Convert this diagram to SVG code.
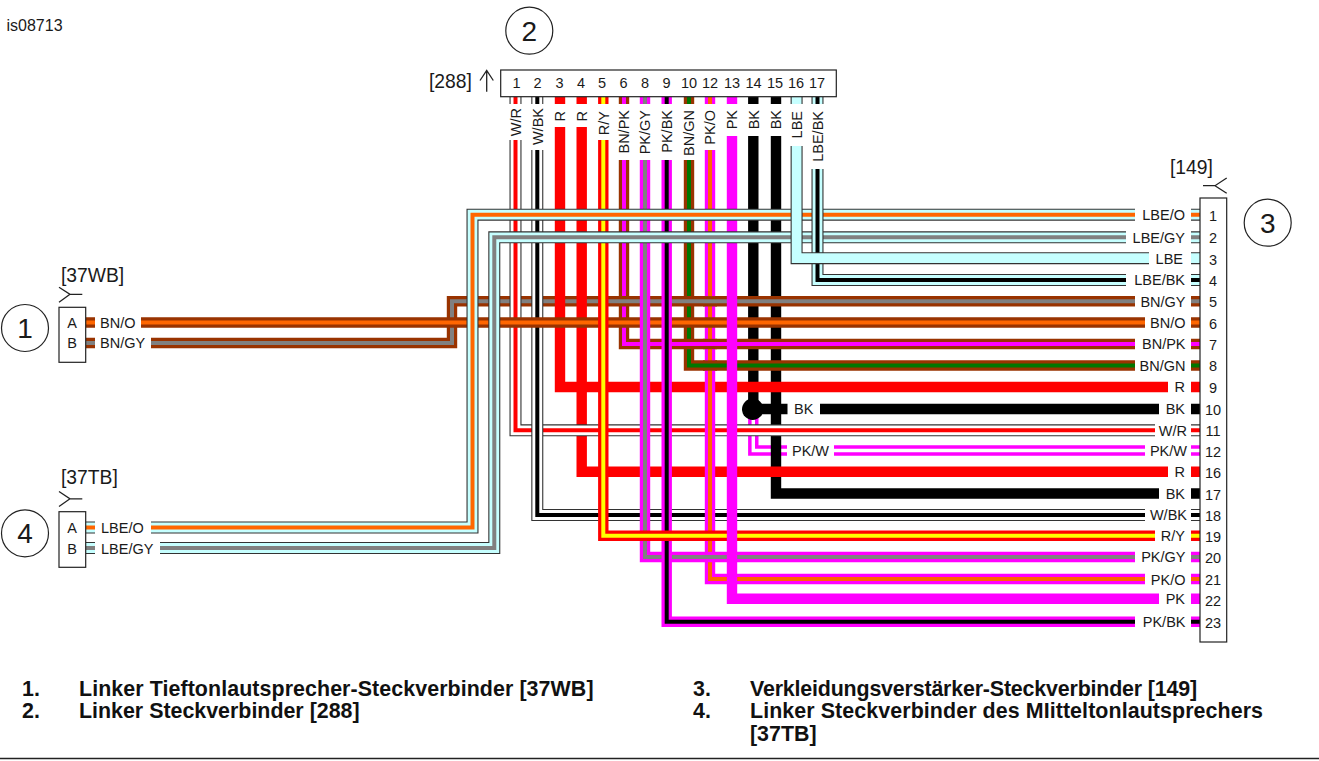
<svg xmlns="http://www.w3.org/2000/svg" width="1319" height="761" viewBox="0 0 1319 761">
<style>
text{font-family:"Liberation Sans",Arial,sans-serif;fill:#1a1a1a}
.t{font-size:14.5px}
.e{text-anchor:end}
.m{text-anchor:middle}
.lb{font-size:19.3px}
.ci{font-size:28px;text-anchor:middle}
.b{font-size:21.4px;font-weight:bold;fill:#111}
.s{fill:#fff;stroke:#222;stroke-width:1.2}
.l{fill:none;stroke:#222;stroke-width:1.3}
use{fill:none;stroke-linejoin:miter}
.red{stroke:#f00;stroke-width:10.4}
.mag{stroke:#f0f;stroke-width:10.4}
.blk{stroke:#000;stroke-width:10.4}
.brn{stroke:#930;stroke-width:10.4}
.edge{stroke:#333;stroke-width:12}
.cyan{stroke:#c6ffff;stroke-width:9.8}
.wht{stroke:#fff;stroke-width:9.8}
.wh2{stroke:#fff;stroke-width:3.4}
.sr{stroke:#f00;stroke-width:4}
.so{stroke:#f60;stroke-width:4}
.sg{stroke:#808080;stroke-width:4}
.sk{stroke:#000;stroke-width:4}
.sy{stroke:#ff0;stroke-width:4}
.sm{stroke:#f0f;stroke-width:4}
.sn{stroke:#070;stroke-width:4}
</style>
<defs>
<path id="pkw" d="M753.3 414V450.5H787M834 450.5H1145M1191 450.5H1200"/>
<path id="bk14" d="M753.3 97V104M753.3 136V409"/>
<path id="bk15" d="M776 97V104M776 136V493.5H1159M1191 493.5H1200"/>
<path id="bk10" d="M753 409H787.5M820 409H1159M1191 409H1200"/>
<path id="bngn" d="M689 97V104M689 160V365.5H1135M1191 365.5H1200"/>
<path id="bnpk" d="M624 97V104M624 160V344H1135M1191 344H1200"/>
<path id="bngy" d="M85.7 343H95M151 343H452V301.3H1135M1191 301.3H1200"/>
<path id="r3" d="M560 97V104M560 127V387H1168M1191 387H1200"/>
<path id="r4" d="M581.7 97V104M581.7 127V471.7H1168M1191 471.7H1200"/>
<path id="wr" d="M515.5 97V104M515.5 140V430.3H1155M1191 430.3H1200"/>
<path id="wbk" d="M537.3 97V104M537.3 150V515H1145M1191 515H1200"/>
<path id="pko" d="M710 97V104M710 150V579H1145M1191 579H1200"/>
<path id="xgy" d="M703 301.3H717"/>
<path id="xpk" d="M703 344H717"/>
<path id="xgn" d="M703 365.5H717"/>
<path id="bno" d="M85.7 322.5H95M141 322.5H1145M1191 322.5H1200"/>
<path id="pkgy" d="M645 97V104M645 160V557H1135M1191 557H1200"/>
<path id="pkbk" d="M666.7 97V104M666.7 160V621.7H1135M1191 621.7H1200"/>
<path id="ry" d="M603.3 97V104M603.3 140V535.7H1155M1191 535.7H1200"/>
<path id="pk" d="M732 97V104M732 136V598.7H1159M1191 598.7H1200"/>
<path id="lbeo" d="M85.7 527.5H95M151 527.5H472.5V214.7H1135M1191 214.7H1200"/>
<path id="lbegy" d="M85.7 548H95M160 548H494.3V237.3H1126M1191 237.3H1200"/>
<path id="lbebk" d="M817.5 97V104M817.5 169V280H1126M1191 280H1200"/>
<path id="lbe" d="M796.6 97V104M796.6 146V258.2H1149M1191 258.2H1200"/>
</defs>
<text x="6.5" y="31" style="font-size:16px">is08713</text>
<g id="connectors">
<use href="#pkw" class="mag"/><use href="#pkw" class="wh2"/>
<use href="#bk14" class="blk"/>
<use href="#bk15" class="blk"/>
<use href="#bk10" class="blk"/>
<circle cx="752.7" cy="409.3" r="10.7" fill="#000"/>
<use href="#bngn" class="brn"/><use href="#bngn" class="sn"/>
<use href="#bnpk" class="brn"/><use href="#bnpk" class="sm"/>
<use href="#bngy" class="brn"/><use href="#bngy" class="sg"/>
<use href="#r3" class="red"/>
<use href="#r4" class="red"/>
<use href="#wr" class="edge"/><use href="#wr" class="wht"/><use href="#wr" class="sr"/>
<use href="#wbk" class="edge"/><use href="#wbk" class="wht"/><use href="#wbk" class="sk"/>
<use href="#pko" class="mag"/><use href="#pko" class="so"/>
<use href="#xgn" class="brn"/><use href="#xgn" class="sn"/>
<use href="#xpk" class="brn"/><use href="#xpk" class="sm"/>
<use href="#xgy" class="brn"/><use href="#xgy" class="sg"/>
<use href="#bno" class="brn"/><use href="#bno" class="so"/>
<use href="#pkgy" class="mag"/><use href="#pkgy" class="sg"/>
<use href="#pkbk" class="mag"/><use href="#pkbk" class="sk"/>
<use href="#ry" class="red"/><use href="#ry" class="sy"/>
<use href="#pk" class="mag"/>
<use href="#lbeo" class="edge"/><use href="#lbeo" class="cyan"/><use href="#lbeo" class="so"/>
<use href="#lbegy" class="edge"/><use href="#lbegy" class="cyan"/><use href="#lbegy" class="sg"/>
<use href="#lbebk" class="edge"/><use href="#lbebk" class="cyan"/><use href="#lbebk" class="sk"/>
<use href="#lbe" class="edge"/><use href="#lbe" class="cyan"/>
<g>
<text class="t" x="100" y="327.7">BN/O</text>
<text class="t" x="100" y="348.3">BN/GY</text>
<text class="t" x="101" y="533">LBE/O</text>
<text class="t" x="101" y="553.5">LBE/GY</text>
<text class="t" x="794" y="414.3">BK</text>
<text class="t" x="792" y="455.5">PK/W</text>
</g>
<g>
<text class="t e" transform="rotate(-90 520.7 108)" x="520.7" y="108">W/R</text>
<text class="t e" transform="rotate(-90 542.5 108)" x="542.5" y="108">W/BK</text>
<text class="t e" transform="rotate(-90 565.2 111)" x="565.2" y="111">R</text>
<text class="t e" transform="rotate(-90 586.9 111)" x="586.9" y="111">R</text>
<text class="t e" transform="rotate(-90 608.5 111)" x="608.5" y="111">R/Y</text>
<text class="t e" transform="rotate(-90 629.2 110)" x="629.2" y="110">BN/PK</text>
<text class="t e" transform="rotate(-90 650.2 110)" x="650.2" y="110">PK/GY</text>
<text class="t e" transform="rotate(-90 671.9 110)" x="671.9" y="110">PK/BK</text>
<text class="t e" transform="rotate(-90 694.2 110)" x="694.2" y="110">BN/GN</text>
<text class="t e" transform="rotate(-90 715.2 110)" x="715.2" y="110">PK/O</text>
<text class="t e" transform="rotate(-90 737.2 110)" x="737.2" y="110">PK</text>
<text class="t e" transform="rotate(-90 758.5 110)" x="758.5" y="110">BK</text>
<text class="t e" transform="rotate(-90 781.2 110)" x="781.2" y="110">BK</text>
<text class="t e" transform="rotate(-90 801.8 111)" x="801.8" y="111">LBE</text>
<text class="t e" transform="rotate(-90 822.7 111)" x="822.7" y="111">LBE/BK</text>
</g>
<g>
<text class="t e" x="1185" y="220">LBE/O</text>
<text class="t e" x="1185" y="242.5">LBE/GY</text>
<text class="t e" x="1183" y="263.5">LBE</text>
<text class="t e" x="1185" y="285.3">LBE/BK</text>
<text class="t e" x="1185.5" y="306.5">BN/GY</text>
<text class="t e" x="1185.5" y="328">BN/O</text>
<text class="t e" x="1185.5" y="349.3">BN/PK</text>
<text class="t e" x="1185.5" y="370.8">BN/GN</text>
<text class="t e" x="1185" y="392">R</text>
<text class="t e" x="1185" y="414.3">BK</text>
<text class="t e" x="1187" y="435.5">W/R</text>
<text class="t e" x="1187" y="456">PK/W</text>
<text class="t e" x="1185" y="477">R</text>
<text class="t e" x="1185" y="499">BK</text>
<text class="t e" x="1187" y="520">W/BK</text>
<text class="t e" x="1185" y="541">R/Y</text>
<text class="t e" x="1185.5" y="562.3">PK/GY</text>
<text class="t e" x="1185.5" y="585">PK/O</text>
<text class="t e" x="1185" y="604">PK</text>
<text class="t e" x="1185.5" y="627">PK/BK</text>
</g>
</g>
<g id="node-1">
<circle class="s" cx="25" cy="328" r="23.5"/>
<text class="ci" x="25" y="338">1</text>
<rect class="s" x="59" y="307.3" width="26.7" height="55"/>
<text class="t m" x="72" y="327.5">A</text>
<text class="t m" x="72" y="348">B</text>
<path class="l" d="M59 287.3L70 294.3H82.3M70 294.3L59 302.3"/>
<text class="lb" x="61" y="281.7">[37WB]</text>
</g>
<g id="node-2">
<circle class="s" cx="529.3" cy="30.7" r="23.5"/>
<text class="ci" x="529.3" y="40.7">2</text>
<rect class="s" x="500.7" y="70" width="335.6" height="26.7"/>
<g>
<text class="t m" x="516.5" y="88">1</text>
<text class="t m" x="537.5" y="88">2</text>
<text class="t m" x="559.5" y="88">3</text>
<text class="t m" x="581" y="88">4</text>
<text class="t m" x="602" y="88">5</text>
<text class="t m" x="623.5" y="88">6</text>
<text class="t m" x="645" y="88">8</text>
<text class="t m" x="666.5" y="88">9</text>
<text class="t m" x="689" y="88">10</text>
<text class="t m" x="710" y="88">12</text>
<text class="t m" x="732" y="88">13</text>
<text class="t m" x="753.5" y="88">14</text>
<text class="t m" x="775" y="88">15</text>
<text class="t m" x="796" y="88">16</text>
<text class="t m" x="817" y="88">17</text>
</g>
<path class="l" d="M486.7 91.7V70.5M480 80.5L486.7 70.5L493.3 80.5"/>
<text class="lb" x="429" y="88">[288]</text>
</g>
<g id="node-3">
<circle class="s" cx="1267.7" cy="222.7" r="23.5"/>
<text class="ci" x="1267.7" y="232.7">3</text>
<rect class="s" x="1200" y="198" width="26.7" height="444"/>
<text class="t m" x="1213" y="221">1</text>
<text class="t m" x="1213" y="243">2</text>
<text class="t m" x="1213" y="264.5">3</text>
<text class="t m" x="1213" y="285.5">4</text>
<text class="t m" x="1213" y="307">5</text>
<text class="t m" x="1213" y="328.5">6</text>
<text class="t m" x="1213" y="349.5">7</text>
<text class="t m" x="1213" y="371">8</text>
<text class="t m" x="1213" y="392.5">9</text>
<text class="t m" x="1213" y="415">10</text>
<text class="t m" x="1213" y="435.5">11</text>
<text class="t m" x="1213" y="456.5">12</text>
<text class="t m" x="1213" y="478">16</text>
<text class="t m" x="1213" y="499.5">17</text>
<text class="t m" x="1213" y="520.5">18</text>
<text class="t m" x="1213" y="541.5">19</text>
<text class="t m" x="1213" y="563">20</text>
<text class="t m" x="1213" y="584.5">21</text>
<text class="t m" x="1213" y="605.5">22</text>
<text class="t m" x="1213" y="627.5">23</text>
<path class="l" d="M1203 185.7H1215L1226.7 178M1215 185.7L1226.7 193.3"/>
<text class="lb" x="1170" y="173.5">[149]</text>
</g>
<g id="node-4">
<circle class="s" cx="25" cy="533.3" r="23.5"/>
<text class="ci" x="25" y="543.3">4</text>
<rect class="s" x="59" y="511.7" width="26.7" height="55.6"/>
<text class="t m" x="72" y="533">A</text>
<text class="t m" x="72" y="553.5">B</text>
<path class="l" d="M59 491.5L70 498.8H82.3M70 498.8L59 506.5"/>
<text class="lb" x="61" y="484">[37TB]</text>
</g>
<g id="legend">
<text class="b" x="22" y="695.5">1.</text>
<text class="b" x="79" y="695.5" textLength="514.5">Linker Tieftonlautsprecher-Steckverbinder [37WB]</text>
<text class="b" x="22" y="718">2.</text>
<text class="b" x="79" y="718">Linker Steckverbinder [288]</text>
<text class="b" x="693" y="695.5">3.</text>
<text class="b" x="750" y="695.5" textLength="447">Verkleidungsverstärker-Steckverbinder [149]</text>
<text class="b" x="693" y="718">4.</text>
<text class="b" x="750" y="718" textLength="513">Linker Steckverbinder des MIitteltonlautsprechers</text>
<text class="b" x="750" y="741">[37TB]</text>
<path d="M0 758.5H1319" stroke="#222" stroke-width="1.3"/>
</g>
</svg>
